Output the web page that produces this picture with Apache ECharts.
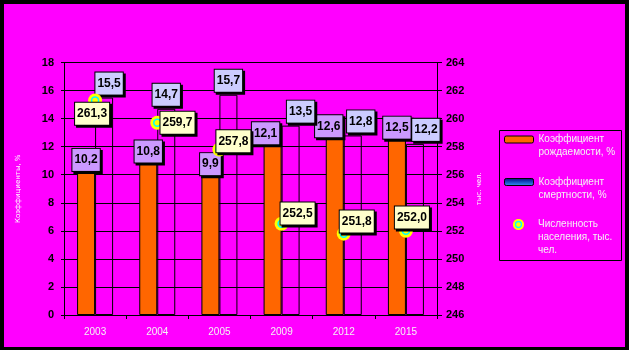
<!DOCTYPE html>
<html><head><meta charset="utf-8">
<script src="https://cdn.jsdelivr.net/npm/echarts@6/dist/echarts.min.js"></script>
<style>
html,body{margin:0;padding:0;background:#000;width:629px;height:350px;overflow:hidden}
#c{position:absolute;left:4px;top:4px;width:621px;height:343px;background:#FF00FF}
</style></head><body>
<div id="c"></div>
<script>
// ---- data ----
var years = ['2003','2004','2005','2009','2012','2015'];
var birthRate = [10.2, 10.8, 9.9, 12.1, 12.6, 12.5];
var deathRate = [15.5, 14.7, 15.7, 13.5, 12.8, 12.2];
var population = [261.3, 259.7, 257.8, 252.5, 251.8, 252.0];
var leftTicks = {min: 0, max: 18, step: 2};
var rightTicks = {min: 246, max: 264, step: 2};
var names = ['Коэффициент рождаемости, %', 'Коэффициент смертности, %', 'Численность населения, тыс. чел.'];
var legendText = ['Коэффициент\nрождаемости, %', 'Коэффициент\nсмертности, %', 'Численность\nнаселения, тыс.\nчел.'];

// ---- label nudges (style only) ----
var birthDx = [0, 0, 0, -7, -6, 0];
var deathDx = [5, 0, 0, 10, 8, 11];
var popLab = [
  {position: 'bottom', distance: 0, offset: [-3, -2]},
  {position: 'right', distance: -1, offset: [0, 0]},
  {position: 'top', distance: 0, offset: [14, 7]},
  {position: 'top', distance: 0, offset: [16, 5]},
  {position: 'top', distance: 0, offset: [13, 3]},
  {position: 'top', distance: 0, offset: [6, 2]}
];

function fmt(v){ return v.toFixed(1).replace('.', ','); }
function boxLabel(bg){
  return {show: true, color: '#000', fontFamily: 'Liberation Sans, Arial', fontWeight: 'bold', fontSize: 12,
    lineHeight: 14,
    backgroundColor: bg, borderColor: '#000', borderWidth: 1, padding: [4, 2, 4, 2],
    shadowColor: '#000', shadowOffsetX: 2, shadowOffsetY: 2, shadowBlur: 0,
    formatter: function(p){ return fmt(p.value); }};
}

var chart = echarts.init(document.getElementById('c'), null, {renderer: 'canvas'});
var lightText = {color: '#f4f4f4', fontFamily: 'Liberation Sans, Arial', fontSize: 10,
  textShadowColor: '#000', textShadowOffsetX: 1, textShadowOffsetY: 1, textShadowBlur: 0};

var popIcon = 'image://data:image/svg+xml;utf8,' + encodeURIComponent(
  '<svg xmlns="http://www.w3.org/2000/svg" width="14" height="14"><circle cx="7" cy="7" r="6.5" fill="#ffff00"/><circle cx="7" cy="7" r="3.5" fill="#ffff00" stroke="#00ffff" stroke-width="1.5"/></svg>');

function legendBlock(i, top, itemH, extra){
  var d = {name: names[i]};
  if (extra) for (var k in extra) d[k] = extra[k];
  var nLines = legendText[i].split('\n').length;
  var pre = '';
  for (var j = 1; j < nLines; j++) pre += ' \n';
  return {
    orient: 'vertical', left: 500, top: top, padding: 0, itemWidth: 29, itemHeight: itemH, itemGap: 0,
    selectedMode: false,
    data: [d],
    formatter: function(){ return pre + legendText[i]; },
    textStyle: Object.assign({}, lightText, {lineHeight: 13})
  };
}

var option = {
  animation: false,
  backgroundColor: '#FF00FF',
  grid: {left: 60, right: 188, top: 58.5, bottom: 32},
  graphic: [{type: 'rect', left: 493, top: 124, shape: {width: 122, height: 130},
    style: {fill: 'none', stroke: '#000', lineWidth: 1}}],
  legend: [
    legendBlock(0, 116, 7, {itemStyle: {color: '#FF6600', borderColor: '#000', borderWidth: 1}}),
    legendBlock(1, 158.5, 7, {itemStyle: {color: {type: 'linear', x: 0, y: 0, x2: 0, y2: 1,
      colorStops: [{offset: 0, color: '#000080'}, {offset: 1, color: '#3399ff'}]}, borderColor: '#000', borderWidth: 1}}),
    legendBlock(2, 188, 12, {icon: popIcon})
  ],
  xAxis: {
    type: 'category', data: years, boundaryGap: true,
    axisLine: {lineStyle: {color: '#000', width: 1}},
    axisTick: {show: true, length: 4, lineStyle: {color: '#000'}},
    axisLabel: Object.assign({}, lightText, {margin: 12})
  },
  yAxis: [{
    type: 'value', min: leftTicks.min, max: leftTicks.max, interval: leftTicks.step, position: 'left',
    name: 'Коэффициенты, %', nameLocation: 'middle', nameGap: 42, nameRotate: 90,
    nameTextStyle: {color: '#ffffff', fontSize: 7, fontFamily: 'DejaVu Sans'},
    axisLine: {show: true, lineStyle: {color: '#000'}},
    axisTick: {show: true, length: 3, lineStyle: {color: '#000'}},
    axisLabel: {color: '#000', fontWeight: 'bold', fontSize: 11, fontFamily: 'Liberation Sans, Arial', margin: 10},
    splitLine: {show: true, lineStyle: {color: '#000', width: 1}}
  }, {
    type: 'value', min: rightTicks.min, max: rightTicks.max, interval: rightTicks.step, position: 'right',
    name: 'тыс. чел.', nameLocation: 'middle', nameGap: 36, nameRotate: 90,
    nameTextStyle: {color: '#ffffff', fontSize: 7, fontFamily: 'DejaVu Sans'},
    axisLine: {show: true, lineStyle: {color: '#000'}},
    axisTick: {show: true, length: 5, lineStyle: {color: '#000'}},
    axisLabel: {color: '#000', fontWeight: 'bold', fontSize: 11, fontFamily: 'Liberation Sans, Arial', margin: 9},
    splitLine: {show: false}
  }],
  series: [{
    name: names[0], type: 'bar', barWidth: 18, barGap: '0%', z: 2,
    itemStyle: {color: '#FF6600', borderColor: '#000', borderWidth: 1},
    label: Object.assign(boxLabel('#CC99FF'), {position: 'top', distance: 1}),
    data: birthRate.map(function(v, i){ return {value: v, label: {offset: [birthDx[i], 0]}}; })
  }, {
    name: names[1], type: 'bar', barWidth: 18, barGap: '0%', z: 2,
    itemStyle: {color: 'rgba(0,0,0,0)', borderColor: '#000', borderWidth: 1},
    label: Object.assign(boxLabel('#CCCCFF'), {position: 'top', distance: 3}),
    data: deathRate.map(function(v, i){ return {value: v, label: {offset: [deathDx[i], 0]}}; })
  }, {
    name: names[2], type: 'scatter', yAxisIndex: 1, symbol: 'circle', symbolSize: 14, z: 4,
    itemStyle: {color: '#ffff00', opacity: 1},
    data: population
  }, {
    name: 'core', type: 'scatter', yAxisIndex: 1, symbol: 'circle', symbolSize: 7, z: 5, silent: true,
    itemStyle: {color: '#ffff00', borderColor: '#00ffff', borderWidth: 1.5, opacity: 1},
    label: boxLabel('#FFFFCC'),
    data: population.map(function(v, i){ return {value: v, label: popLab[i]}; })
  }]
};
chart.setOption(option);
</script>
</body></html>
